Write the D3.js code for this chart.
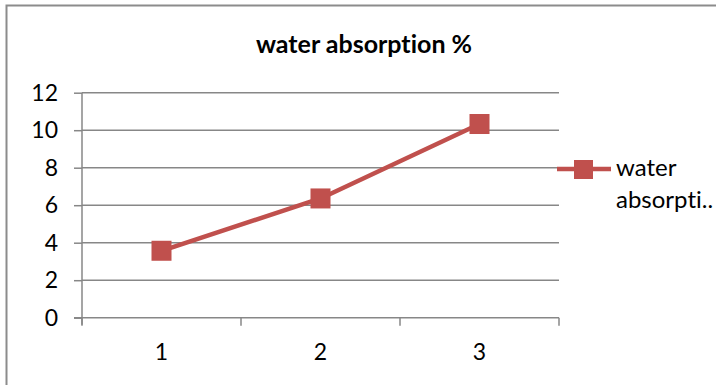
<!DOCTYPE html>
<html>
<head>
<meta charset="utf-8">
<script src="https://cdn.jsdelivr.net/npm/d3@7"></script>
<style>
  html, body { margin: 0; padding: 0; background: #fff; }
  svg { display: block; font-family: Lato, "Open Sans", sans-serif; font-variant-ligatures: none; }
</style>
</head>
<body>
<svg id="chart" width="716" height="385"></svg>
<script>
// Chart data
const categories = ["1", "2", "3"];
const seriesName = "water absorption %";
const seriesValues = [3.57, 6.36, 10.33];
const yTicks = [0, 2, 4, 6, 8, 10, 12];
const legendLines = ["water", "absorpti.."];

const svg = d3.select("#chart");
const lineColor = "#C0504D";
const gridColor = "#878787";
const font = "Lato, 'Open Sans', sans-serif";

// Outer chart frame
svg.append("rect")
  .attr("x", 6.5).attr("y", 5.5)
  .attr("width", 740).attr("height", 420)
  .attr("fill", "none")
  .attr("stroke", "#8c8c8c")
  .attr("stroke-width", 2);

const plot = { left: 82, right: 559, top: 92.7, bottom: 317.7 };

const x = d3.scaleBand()
  .domain(categories)
  .range([plot.left, plot.right]);

const y = d3.scaleLinear()
  .domain([0, 12])
  .range([plot.bottom, plot.top]);

// Horizontal gridlines
svg.append("g")
  .selectAll("line")
  .data(yTicks.filter(d => d !== 0))
  .join("line")
  .attr("x1", plot.left).attr("x2", plot.right)
  .attr("y1", d => y(d)).attr("y2", d => y(d))
  .attr("stroke", gridColor)
  .attr("stroke-width", 1.5);

// Y axis
const yAxis = svg.append("g")
  .attr("transform", `translate(${plot.left},0)`)
  .call(d3.axisLeft(y).tickValues(yTicks).tickSize(8).tickPadding(16));
yAxis.select(".domain").attr("stroke", gridColor).attr("stroke-width", 1.5)
  .attr("d", `M0,${plot.bottom + 7}V${plot.top}`);
yAxis.selectAll(".tick line").attr("stroke", gridColor).attr("stroke-width", 1.5);
yAxis.selectAll(".tick text")
  .attr("fill", "#000").attr("font-size", 23)
  .attr("font-family", font);

// X axis with tick marks at category boundaries
const xAxis = svg.append("g")
  .attr("transform", `translate(0,${plot.bottom})`)
  .call(d3.axisBottom(x).tickSize(0).tickPadding(26));
xAxis.select(".domain").attr("stroke", gridColor).attr("stroke-width", 1.5)
  .attr("d", `M${plot.left - 8},0H${plot.right}`);
xAxis.selectAll(".tick text")
  .attr("fill", "#000").attr("font-size", 23)
  .attr("font-family", font);
const boundaries = categories.map(c => x(c)).concat([x(categories[categories.length - 1]) + x.bandwidth()]);
xAxis.append("g")
  .selectAll("line")
  .data(boundaries)
  .join("line")
  .attr("x1", d => d).attr("x2", d => d)
  .attr("y1", 0).attr("y2", 8)
  .attr("stroke", gridColor)
  .attr("stroke-width", 1.5);

// Series line
const points = categories.map((c, i) => ({ c, v: seriesValues[i] }));
const line = d3.line()
  .x(d => x(d.c) + x.bandwidth() / 2)
  .y(d => y(d.v));
svg.append("path")
  .datum(points)
  .attr("d", line)
  .attr("fill", "none")
  .attr("stroke", lineColor)
  .attr("stroke-width", 4.5)
  .attr("stroke-linejoin", "round");

// Square markers
const m = 20;
svg.append("g")
  .selectAll("rect")
  .data(points)
  .join("rect")
  .attr("x", d => x(d.c) + x.bandwidth() / 2 - m / 2)
  .attr("y", d => y(d.v) - m / 2)
  .attr("width", m).attr("height", m)
  .attr("fill", lineColor);

// Title
svg.append("text")
  .attr("x", 364).attr("y", 53)
  .attr("text-anchor", "middle")
  .attr("font-size", 25)
  .attr("font-weight", "bold")
  .attr("font-family", font)
  .attr("fill", "#000")
  .text(seriesName);

// Legend
const lg = svg.append("g");
lg.append("line")
  .attr("x1", 557).attr("x2", 611)
  .attr("y1", 169).attr("y2", 169)
  .attr("stroke", lineColor).attr("stroke-width", 4.5);
lg.append("rect")
  .attr("x", 574).attr("y", 160)
  .attr("width", 19).attr("height", 19)
  .attr("fill", lineColor);
lg.selectAll("text")
  .data(legendLines)
  .join("text")
  .attr("x", 616)
  .attr("y", (d, i) => 176 + i * 32)
  .attr("font-size", 24)
  .attr("font-family", font)
  .attr("fill", "#000")
  .text(d => d);
</script>
</body>
</html>
